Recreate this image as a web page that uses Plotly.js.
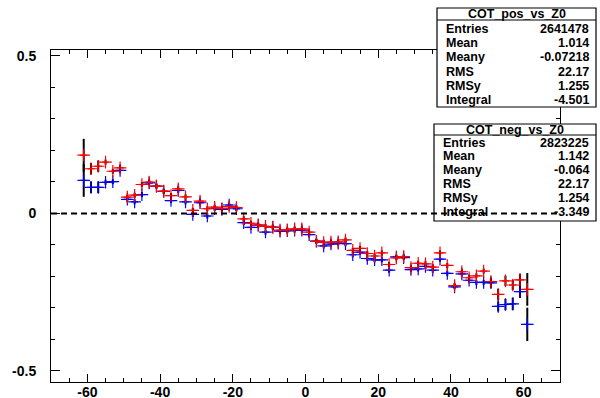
<!DOCTYPE html>
<html><head><meta charset="utf-8">
<script src="https://cdn.plot.ly/plotly-3.0.1.min.js"></script>
<style>body{margin:0;background:#fff}#chart{width:600px;height:398px}</style>
</head><body><div id="chart"></div>
<script>
// Bin centres (Z0, cm)
const z0 = [-61,-59,-57,-55,-53,-51,-49,-47,-45,-43,-41,-39,-37,-35,-33,-31,-29,-27,-25,-23,-21,-19,-17,-15,-13,-11,-9,-7,-5,-3,-1,
            1,3,5,7,9,11,13,15,17,19,21,23,25,27,29,31,33,35,37,39,41,43,45,47,49,51,53,55,57,59,61];
// COT_neg_vs_Z0 (red)
const negY = [0.185,0.142,0.150,0.163,0.134,0.145,0.052,0.058,0.092,0.100,0.087,0.071,0.057,0.078,0.053,0.010,0.039,0.015,0.020,0.016,0.022,0.019,-0.017,-0.031,-0.037,-0.041,-0.044,-0.053,-0.052,-0.049,-0.049,
              -0.059,-0.088,-0.092,-0.091,-0.090,-0.084,-0.117,-0.111,-0.127,-0.135,-0.125,-0.162,-0.141,-0.137,-0.172,-0.158,-0.160,-0.170,-0.125,-0.165,-0.229,-0.185,-0.204,-0.198,-0.183,-0.216,-0.257,-0.214,-0.227,-0.211,-0.241];
const negErr = [0.052,0.018,0.018,0.008,0.008,0.008,0.008,0.008,0.008,0.008,0.008,0.008,0.008,0.008,0.008,0.008,0.008,0.008,0.008,0.008,0.008,0.008,0.008,0.008,0.008,0.008,0.008,0.008,0.008,0.008,0.008,
                0.008,0.008,0.008,0.008,0.008,0.008,0.008,0.008,0.008,0.008,0.008,0.008,0.008,0.008,0.008,0.008,0.008,0.008,0.008,0.008,0.008,0.008,0.008,0.008,0.008,0.010,0.018,0.016,0.016,0.020,0.052];
// COT_pos_vs_Z0 (blue)
const posY = [0.105,0.083,0.083,0.099,0.101,0.137,0.045,0.037,0.060,0.097,0.087,0.070,0.041,0.073,0.037,-0.003,0.034,-0.008,0.016,0.013,0.027,0.015,-0.029,-0.044,-0.037,-0.059,-0.043,-0.056,-0.055,-0.053,-0.053,
              -0.067,-0.088,-0.103,-0.097,-0.094,-0.096,-0.131,-0.123,-0.143,-0.147,-0.147,-0.180,-0.138,-0.140,-0.178,-0.176,-0.168,-0.180,-0.145,-0.190,-0.233,-0.192,-0.212,-0.219,-0.219,-0.220,-0.295,-0.289,-0.287,-0.248,-0.352];
const posErr = [0.052,0.018,0.018,0.008,0.008,0.008,0.008,0.008,0.008,0.008,0.008,0.008,0.008,0.008,0.008,0.008,0.008,0.008,0.008,0.008,0.008,0.008,0.008,0.008,0.008,0.008,0.008,0.008,0.008,0.008,0.008,
                0.008,0.008,0.008,0.008,0.008,0.008,0.008,0.008,0.008,0.008,0.008,0.008,0.008,0.008,0.008,0.008,0.008,0.008,0.008,0.008,0.008,0.008,0.008,0.008,0.008,0.016,0.016,0.018,0.020,0.020,0.053];

const xTicks = [-60,-40,-20,0,20,40,60];
const xTickText = ['-60','-40','-20','0','20','40','60'];
const yTicks = [-0.5,0,0.5];
const yTickText = ['-0.5','0','0.5'];

const statLabels = ['Entries','Mean','Meany','RMS','RMSy','Integral'];
const posTitle = 'COT_pos_vs_Z0';
const posStats = ['2641478','1.014','-0.07218','22.17','1.255','-4.501'];
const negTitle = 'COT_neg_vs_Z0';
const negStats = ['2823225','1.142','-0.064','22.17','1.254','-3.349'];

// ---- layout helpers (pixel -> paper) ----
const L=51, R=560, T=50, B=382;
const px = v => (v-L)/(R-L);
const py = v => (B-v)/(B-T);

function trace(y, err, color){
  return {
    x: z0, y: y, type:'scatter', mode:'markers', cliponaxis:false,
    marker:{symbol:'cross-thin-open', size:9, color:color, line:{color:color, width:1.2}},
    error_x:{type:'constant', value:1, color:color, thickness:1.2, width:0},
    error_y:{type:'data', array:err, visible:true, color:'black', thickness:2, width:0},
    hoverinfo:'skip', showlegend:false
  };
}

const shapes = [];
const annotations = [];
const bold = {family:'Liberation Sans, Arial, sans-serif', size:12.5, color:'black', weight:'bold'};
function statBox(x0,x1,y0,ySep,y1,title,rowsY,vals){
  shapes.push({type:'rect', xref:'paper', yref:'paper', x0:px(x0), x1:px(x1), y0:py(y0), y1:py(y1),
    fillcolor:'white', line:{color:'black', width:1.2}, layer:'above'});
  shapes.push({type:'line', xref:'paper', yref:'paper', x0:px(x0), x1:px(x1), y0:py(ySep), y1:py(ySep),
    line:{color:'black', width:1.2}, layer:'above'});
  annotations.push({xref:'paper', yref:'paper', x:px((x0+x1)/2), y:py((y0+ySep)/2), text:title,
    showarrow:false, xanchor:'center', yanchor:'middle', font:bold});
  statLabels.forEach((lab,i)=>{
    annotations.push({xref:'paper', yref:'paper', x:px(x0+7), y:py(rowsY[i]), text:lab,
      showarrow:false, xanchor:'left', yanchor:'middle', font:bold});
    annotations.push({xref:'paper', yref:'paper', x:px(x1-5), y:py(rowsY[i]), text:vals[i],
      showarrow:false, xanchor:'right', yanchor:'middle', font:bold});
  });
}
statBox(437,596,8,20,107,posTitle,[29,43.2,57.4,71.6,85.8,100],posStats);
statBox(434,596,124,135,221,negTitle,[142.5,156.3,170.2,184,197.9,211.7],negStats);
// dashed zero line (drawn on top)
shapes.push({type:'line', xref:'paper', yref:'y', x0:0, x1:1, y0:0, y1:0,
  line:{color:'black', width:2, dash:'6px,4px'}, layer:'above'});

const tickFont = {family:'Liberation Sans, Arial, sans-serif', size:14, color:'black', weight:'bold'};
const layout = {
  width:600, height:398,
  margin:{l:L, r:600-R, t:T, b:398-B, pad:0},
  paper_bgcolor:'white', plot_bgcolor:'white',
  xaxis:{range:[-70,70], tickmode:'array', tickvals:xTicks, ticktext:xTickText,
    ticks:'inside', ticklen:8, tickwidth:1, tickcolor:'black',
    showline:true, linecolor:'black', linewidth:1, mirror:'ticks',
    showgrid:false, zeroline:false, tickfont:tickFont, ticklabelstandoff:-3,
    minor:{dtick:5, tick0:0, ticks:'inside', ticklen:4, tickcolor:'black', showgrid:false}},
  yaxis:{range:[-0.535,0.519], tickmode:'array', tickvals:yTicks, ticktext:yTickText,
    ticks:'inside', ticklen:9, tickwidth:1, tickcolor:'black',
    showline:true, linecolor:'black', linewidth:1, mirror:'ticks',
    showgrid:false, zeroline:false, tickfont:tickFont, ticklabelstandoff:11,
    minor:{dtick:0.1, tick0:0, ticks:'inside', ticklen:4, tickcolor:'black', showgrid:false}},
  shapes:shapes, annotations:annotations
};

Plotly.newPlot('chart', [trace(posY,posErr,'#0000ff'), trace(negY,negErr,'#ff0000')], layout, {staticPlot:true, displayModeBar:false});
</script>
</body></html>
